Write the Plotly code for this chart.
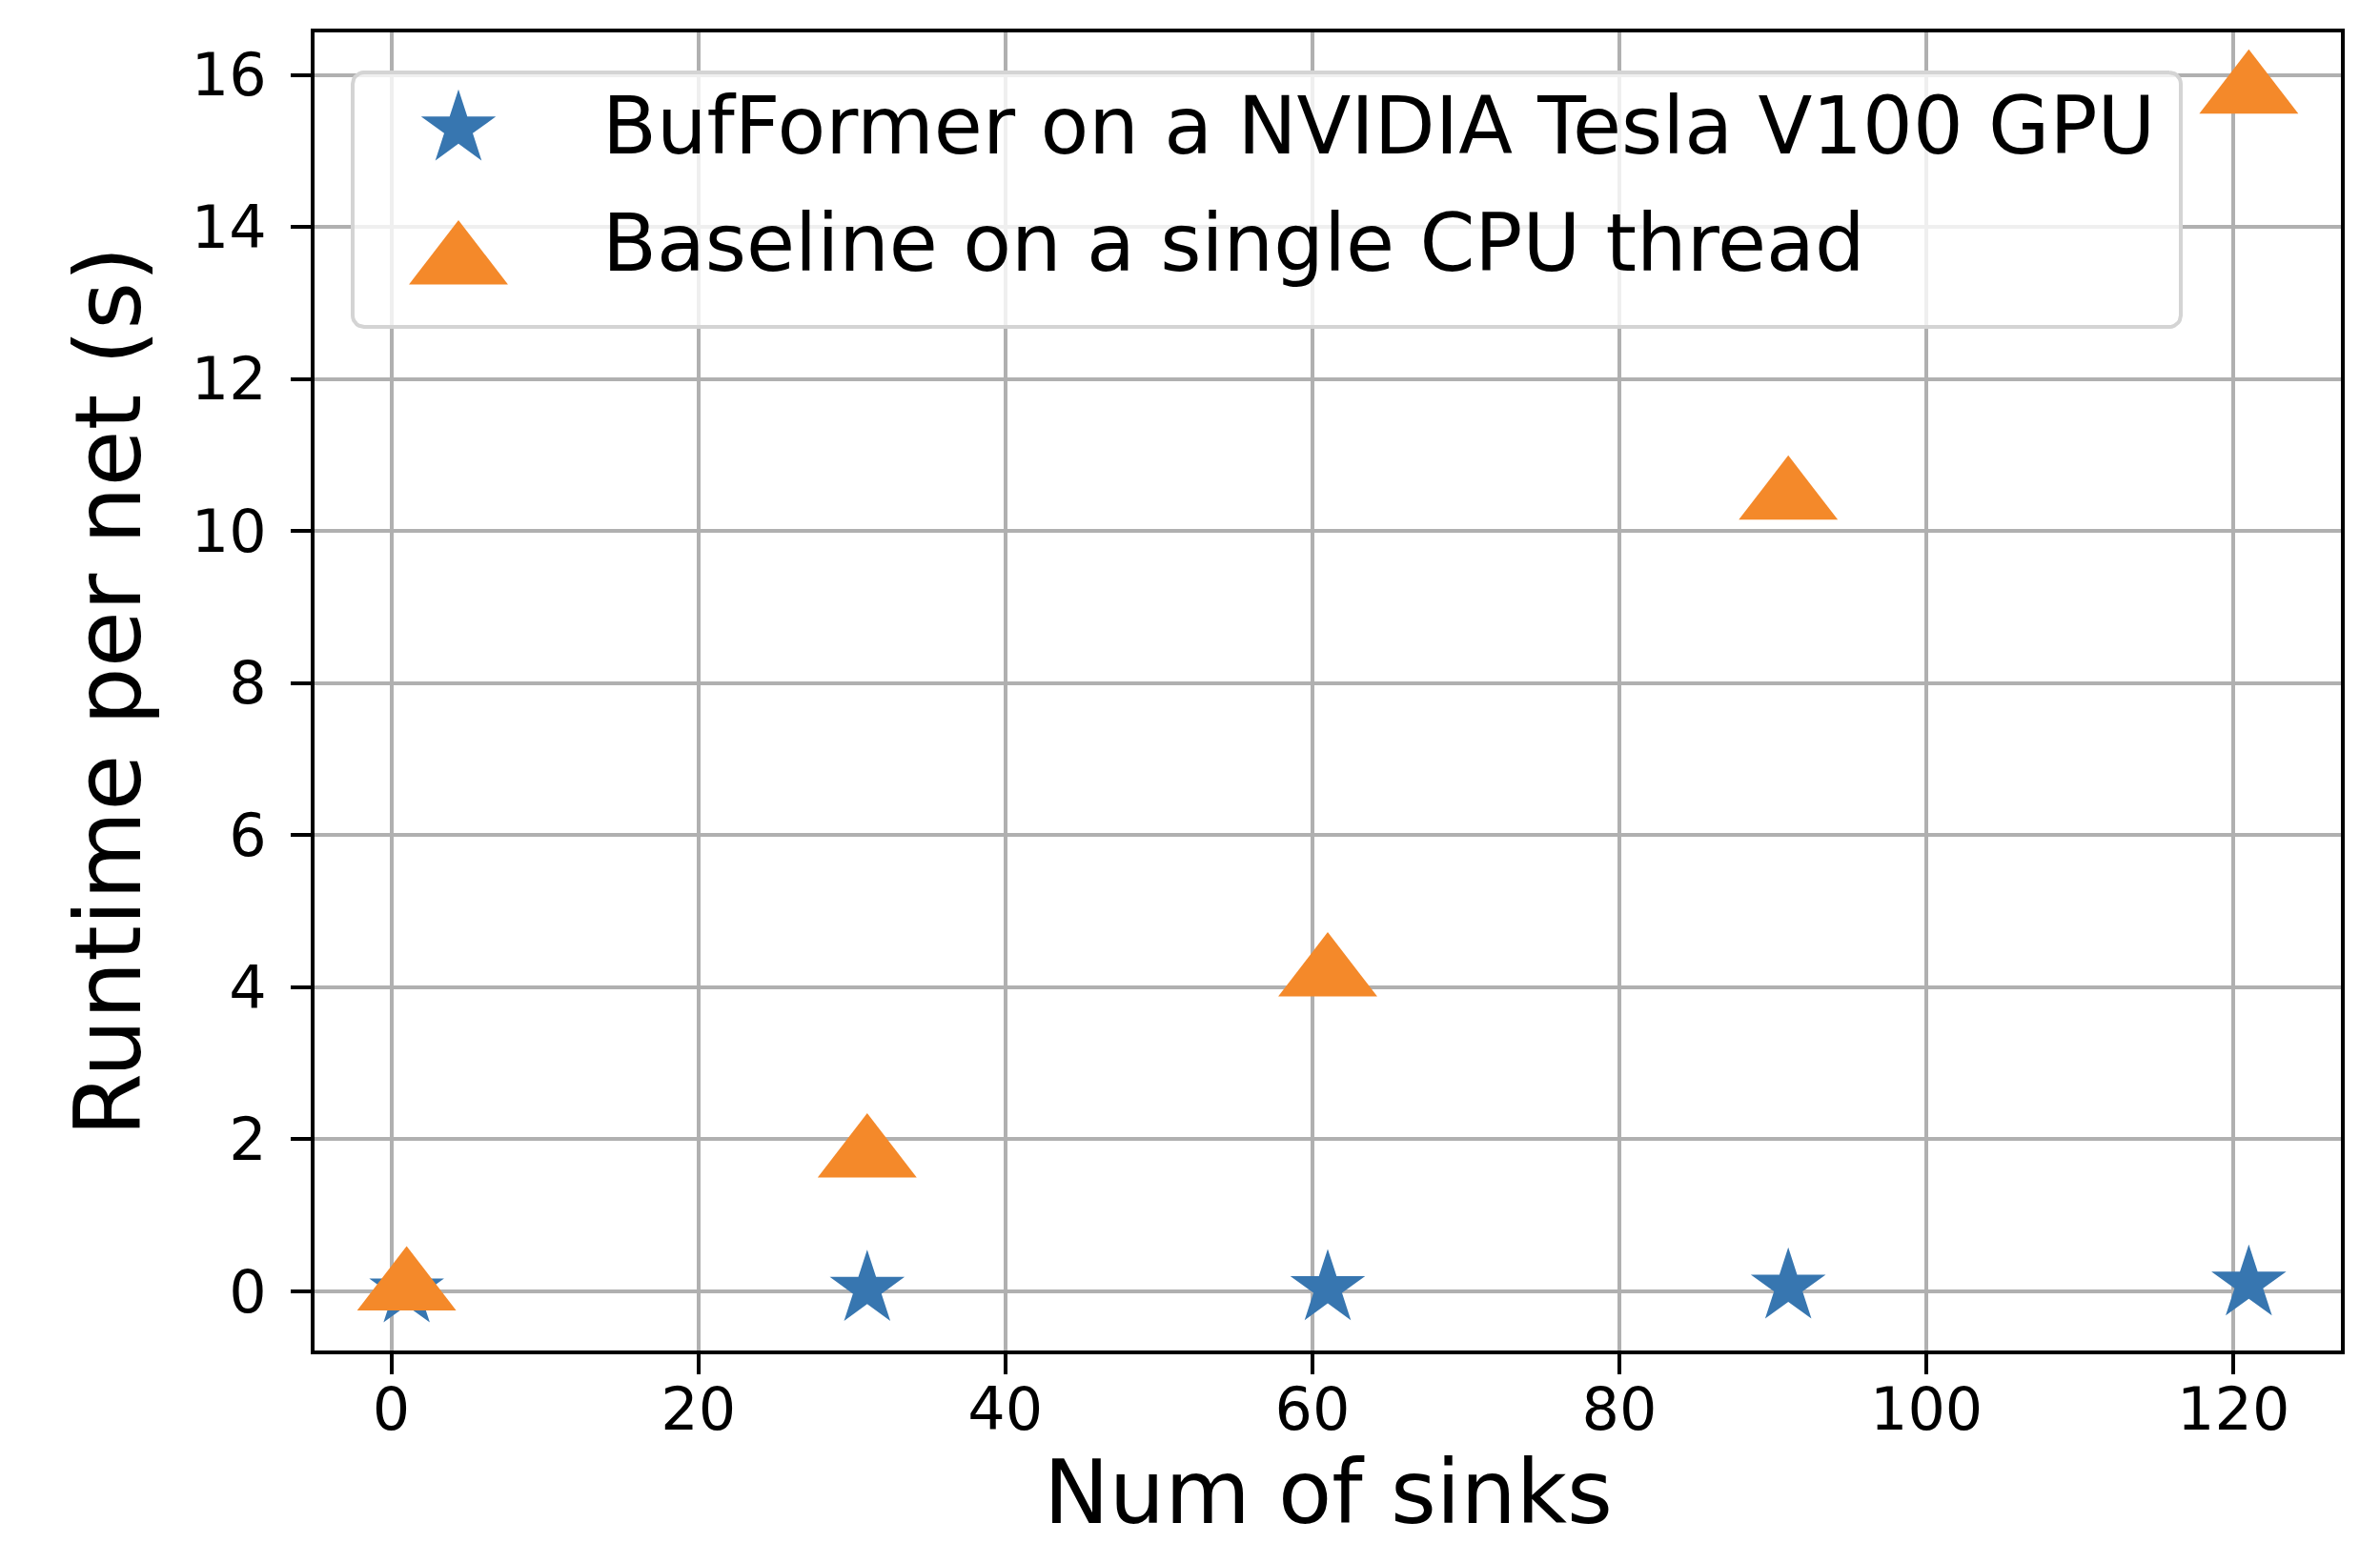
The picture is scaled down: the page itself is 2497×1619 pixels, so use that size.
import numpy as np
import plotly.graph_objects as go

# ---- data ----
num_sinks = [1, 31, 61, 91, 121]
bufformer_runtime = [0.01, 0.03, 0.04, 0.06, 0.10]
baseline_runtime = [0.03, 1.78, 4.16, 10.43, 15.77]
series_names = ["BufFormer on a NVIDIA Tesla V100 GPU", "Baseline on a single CPU thread"]
x_ticks = [0, 20, 40, 60, 80, 100, 120]
y_ticks = [0, 2, 4, 6, 8, 10, 12, 14, 16]
x_title = "Num of sinks"
y_title = "Runtime per net (s)"

BLUE = "#3776b0"
ORANGE = "#f4892a"
FONT = "DejaVu Sans"

W, H = 2497, 1619
ML, MR, MT, MB = 322, 49, 26, 210
PW, PH = W - ML - MR, H - MT - MB

STAR_SIZE = 59
TRI_SIZE = 90

# matplotlib-like 5% margins
xmin, xmax = min(num_sinks), max(num_sinks)
xd = xmax - xmin
all_y = bufformer_runtime + baseline_runtime
ymin, ymax = min(all_y), max(all_y)
yd = ymax - ymin

fig = go.Figure()
fig.add_trace(go.Scatter(x=num_sinks, y=bufformer_runtime, mode="markers", name=series_names[0],
                         marker=dict(symbol="star", size=STAR_SIZE, color=BLUE, line=dict(width=0))))
fig.add_trace(go.Scatter(x=num_sinks, y=baseline_runtime, mode="markers", name=series_names[1],
                         marker=dict(symbol="triangle-up", size=TRI_SIZE, color=ORANGE, line=dict(width=0))))


# ---- custom legend (rounded box, large markers, text) on an overlay axis in [0,1] ----
def dx(px):
    return (px - ML) / PW


def dy(py):
    return (MT + PH - py) / PH


bx0, bx1, by0, by1, rad = 362, 2280, 68, 335, 12  # pixel box (top=by0)
pts = []
corners = [(bx1 - rad, by0 + rad, -90, 0), (bx1 - rad, by1 - rad, 0, 90),
           (bx0 + rad, by1 - rad, 90, 180), (bx0 + rad, by0 + rad, 180, 270)]
for cx, cy, a0, a1 in corners:
    for a in np.linspace(np.radians(a0), np.radians(a1), 8):
        pts.append((cx + rad * np.cos(a), cy + rad * np.sin(a)))
pts.append(pts[0])
fig.add_trace(go.Scatter(x=[dx(p[0]) for p in pts], y=[dy(p[1]) for p in pts], xaxis="x2", yaxis="y2",
                         mode="lines", fill="toself", fillcolor="rgba(255,255,255,0.8)",
                         line=dict(color="#d4d4d4", width=4), showlegend=False, hoverinfo="skip"))

fig.add_trace(go.Scatter(x=[dx(473)], y=[dy(127)], xaxis="x2", yaxis="y2", mode="markers",
                         showlegend=False, hoverinfo="skip",
                         marker=dict(symbol="star", size=STAR_SIZE, color=BLUE, line=dict(width=0))))
fig.add_trace(go.Scatter(x=[dx(473)], y=[dy(268)], xaxis="x2", yaxis="y2", mode="markers",
                         showlegend=False, hoverinfo="skip",
                         marker=dict(symbol="triangle-up", size=TRI_SIZE, color=ORANGE, line=dict(width=0))))
for name, ty in zip(series_names, [125, 247]):
    fig.add_annotation(x=dx(622), y=dy(ty), xref="x domain", yref="y domain", text=name,
                       showarrow=False, xanchor="left", yanchor="middle",
                       font=dict(family=FONT, size=83, color="black"))

# x-axis title as an annotation so it stays fully inside the figure
fig.add_annotation(x=0.5, y=dy(H - 5), xref="paper", yref="paper", text=x_title,
                   showarrow=False, xanchor="center", yanchor="bottom",
                   font=dict(family=FONT, size=92, color="black"))

axis_common = dict(showline=True, linecolor="black", linewidth=4, mirror=True,
                   ticks="outside", ticklen=21, tickwidth=4, tickcolor="black",
                   showgrid=True, gridcolor="#b0b0b0", gridwidth=4, zeroline=False,
                   tickfont=dict(family=FONT, size=62, color="black"))

fig.update_layout(
    width=W, height=H,
    margin=dict(l=ML, r=MR, t=MT, b=MB, autoexpand=False),
    paper_bgcolor="white", plot_bgcolor="white",
    showlegend=False,
    font=dict(family=FONT, color="black"),
    xaxis=dict(axis_common, range=[xmin - 0.05 * xd, xmax + 0.05 * xd],
               tickvals=x_ticks, ticktext=[str(v) for v in x_ticks], ticklabelstandoff=-16),
    yaxis=dict(axis_common, range=[ymin - 0.05 * yd, ymax + 0.05 * yd],
               tickvals=y_ticks, ticktext=[str(v) for v in y_ticks], ticklabelstandoff=13,
               title=dict(text=y_title, font=dict(family=FONT, size=96, color="black"), standoff=22)),
    xaxis2=dict(overlaying="x", anchor="y2", range=[0, 1], visible=False, fixedrange=True),
    yaxis2=dict(overlaying="y", anchor="x2", range=[0, 1], visible=False, fixedrange=True),
)

fig.write_html("out.html")
